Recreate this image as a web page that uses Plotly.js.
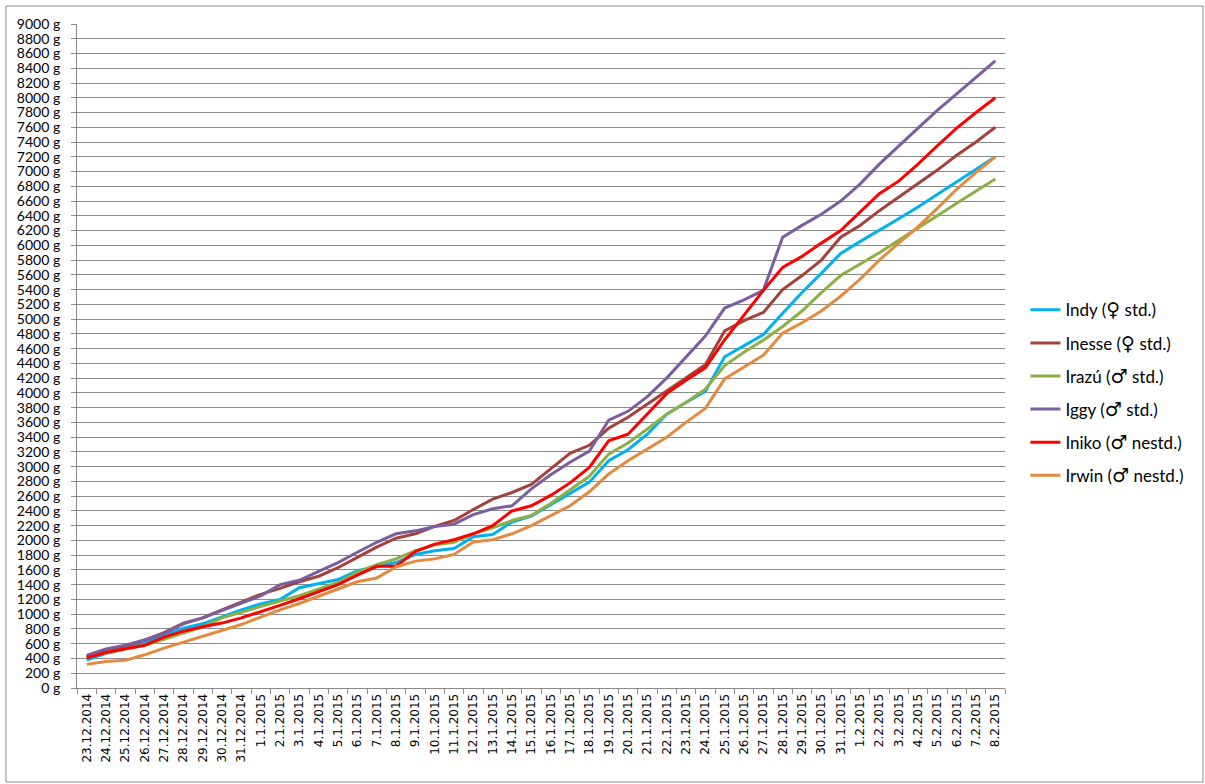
<!DOCTYPE html>
<html><head><meta charset="utf-8">
<script src="https://cdn.plot.ly/plotly-3.0.1.min.js"></script>
<style>html,body{margin:0;padding:0;background:#fff}#chart{width:1205px;height:784px}</style>
</head><body><div id="chart"></div>
<script>
const dates = ["23.12.2014","24.12.2014","25.12.2014","26.12.2014","27.12.2014","28.12.2014","29.12.2014","30.12.2014","31.12.2014",
"1.1.2015","2.1.2015","3.1.2015","4.1.2015","5.1.2015","6.1.2015","7.1.2015","8.1.2015","9.1.2015","10.1.2015",
"11.1.2015","12.1.2015","13.1.2015","14.1.2015","15.1.2015","16.1.2015","17.1.2015","18.1.2015","19.1.2015","20.1.2015",
"21.1.2015","22.1.2015","23.1.2015","24.1.2015","25.1.2015","26.1.2015","27.1.2015","28.1.2015","29.1.2015","30.1.2015","31.1.2015",
"1.2.2015","2.2.2015","3.2.2015","4.2.2015","5.2.2015","6.2.2015","7.2.2015","8.2.2015"];

const indy   = [380,470,530,610,720,810,870,970,1060,1140,1200,1360,1410,1470,1590,1640,1700,1810,1860,1890,2050,2080,2250,2330,2480,2640,2790,3080,3230,3440,3710,3870,4020,4490,4640,4790,5080,5360,5620,5890,6050,6200,6360,6520,6690,6850,7020,7200];
const inesse = [430,500,560,650,750,880,950,1060,1170,1270,1350,1440,1515,1630,1770,1910,2030,2090,2190,2270,2420,2560,2650,2760,2970,3180,3290,3520,3670,3850,4030,4210,4380,4840,4980,5090,5400,5590,5800,6110,6270,6470,6650,6840,7020,7220,7400,7600];
const irazu  = [420,470,530,580,660,750,830,950,1030,1110,1180,1250,1345,1430,1570,1670,1750,1860,1940,1975,2090,2170,2270,2340,2500,2690,2870,3170,3320,3510,3710,3870,4050,4370,4550,4715,4900,5110,5360,5590,5740,5900,6070,6230,6400,6570,6740,6900];
const iggy   = [440,530,580,650,740,870,950,1050,1160,1250,1400,1460,1580,1700,1840,1975,2090,2130,2190,2220,2350,2430,2470,2700,2890,3060,3210,3630,3750,3950,4200,4480,4770,5150,5260,5390,6110,6270,6420,6600,6830,7100,7350,7590,7830,8050,8280,8500];
const iniko  = [410,480,530,580,690,770,830,880,950,1030,1120,1210,1305,1400,1530,1650,1650,1850,1950,2010,2090,2200,2400,2470,2610,2780,2990,3350,3440,3710,3990,4170,4340,4720,5060,5390,5700,5850,6030,6200,6450,6700,6870,7100,7350,7590,7800,8000];
const irwin  = [320,360,375,450,540,620,700,780,860,960,1060,1145,1240,1340,1440,1490,1640,1720,1750,1810,1980,2010,2090,2200,2340,2470,2660,2900,3080,3240,3400,3600,3790,4190,4350,4510,4810,4950,5110,5310,5540,5800,6030,6250,6500,6760,6990,7200];

const sym = s => '<span style="font-family:\'DejaVu Sans\';font-size:19px">' + s + '</span>';
const names  = ["Indy (" + sym("♀") + " std.)","Inesse (" + sym("♀") + " std.)","Irazú (" + sym("♂") + " std.)",
                "Iggy (" + sym("♂") + " std.)","Iniko (" + sym("♂") + " nestd.)","Irwin (" + sym("♂") + " nestd.)"];
const series = [indy, inesse, irazu, iggy, iniko, irwin];
const colors = ["#00B0F0","#A3423C","#8DB046","#7A5EA0","#FF0000","#E48A3E"];

const traces = series.map((s, k) => ({
  type: "scatter", mode: "lines", x: dates, y: s, name: names[k],
  legendgroup: "g" + k,
  line: {color: colors[k], width: 3},
  hoverinfo: "x+y+name"
}));

const grid = "#8a8a8a";
const layout = {
  width: 1205, height: 784,
  margin: {l: 77, r: 200, t: 24, b: 96},
  paper_bgcolor: "#fff", plot_bgcolor: "#fff",
  showlegend: true,
  legend: {
    x: 1.022, y: 0.596, xanchor: "left", yanchor: "top",
    traceorder: "grouped", tracegroupgap: 8,
    font: {family: "Lato, 'Open Sans', sans-serif", size: 17, color: "#000"},
    bgcolor: "rgba(0,0,0,0)"
  },
  xaxis: {
    type: "category", categoryorder: "array", categoryarray: dates,
    range: [-0.5, 47.5], fixedrange: true,
    showgrid: false, zeroline: false,
    showline: true, linecolor: grid, linewidth: 1,
    ticks: "outside", tickson: "boundaries", ticklen: 5, tickcolor: grid,
    tickangle: -90, tickfont: {family: "'DejaVu Sans', Verdana, sans-serif", size: 12, color: "#000"},
    automargin: false
  },
  yaxis: {
    range: [0, 9000], dtick: 200, tick0: 0, fixedrange: true,
    ticksuffix: " g",
    showgrid: true, gridcolor: grid, gridwidth: 1,
    zeroline: false,
    showline: true, linecolor: grid, linewidth: 1,
    ticks: "outside", ticklen: 5, tickcolor: grid,
    ticklabelstandoff: 8,
    tickfont: {family: "Lato, 'Open Sans', sans-serif", size: 14, color: "#000"},
    automargin: false
  },
  shapes: [{
    type: "rect", xref: "paper", yref: "paper",
    x0: -0.0765, x1: 1.2134, y0: -0.1416, y1: 1.0271,
    line: {color: "#8c8c8c", width: 1}, fillcolor: "rgba(0,0,0,0)", layer: "below"
  }]
};

Plotly.newPlot("chart", traces, layout, {displayModeBar: false, staticPlot: true});
</script>
</body></html>
